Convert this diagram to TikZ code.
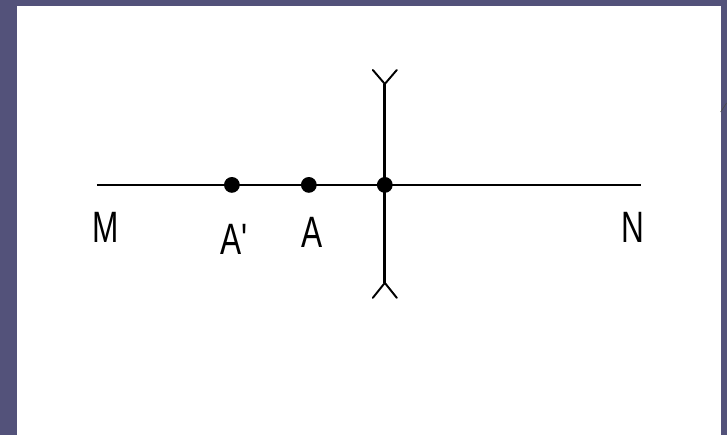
\documentclass[tikz,border=0pt]{standalone}
\usepackage{fontspec}
\setmainfont{Liberation Sans}
\usepackage{tikz}

\definecolor{slide}{RGB}{83,82,122}

\tikzset{
    dot/.style={circle,fill=black,inner sep=0pt,minimum size=9pt},
    lbl/.style={anchor=base,xscale=0.72,inner sep=0pt,font=\fontsize{25}{30}\selectfont},
    fork/.style={line width=1.1pt,line cap=round}
}

\begin{document}
\begin{tikzpicture}[x=0.02cm,y=-0.02cm]
    % Slide background and white panel
    \fill[slide] (0,0) rectangle (727,435);
    \fill[white] (17,6) rectangle (721,435);
    \draw[black!70,thin] (721,112) -- (727,103);
    \useasboundingbox (0,0) rectangle (727,435);

    % Line MN and the perpendicular
    \coordinate (m) at (97,185);
    \coordinate (n) at (641,185);
    \coordinate (top) at (385,84);
    \coordinate (bot) at (385,283);
    \draw[line width=1.6pt] (m) -- (n);
    \draw[line width=1.6pt] (top) -- (bot);

    % Fork ends of the perpendicular
    \draw[fork] (373,70) -- (top) -- (397,70);
    \draw[fork] (373,298) -- (bot) -- (397,298);

    % Points on the line
    \node[dot] (a1) at (232,185) {};
    \node[dot] (a) at (309,185) {};
    \node[dot] (o) at (385,185) {};

    % Labels
    \node[lbl] (M) at (106,243) {M};
    \node[lbl] (A1) at (234,255) {A\textquotesingle};
    \node[lbl] (A) at (312,248) {A};
    \node[lbl] (N) at (633,243) {N};
\end{tikzpicture}
\end{document}
